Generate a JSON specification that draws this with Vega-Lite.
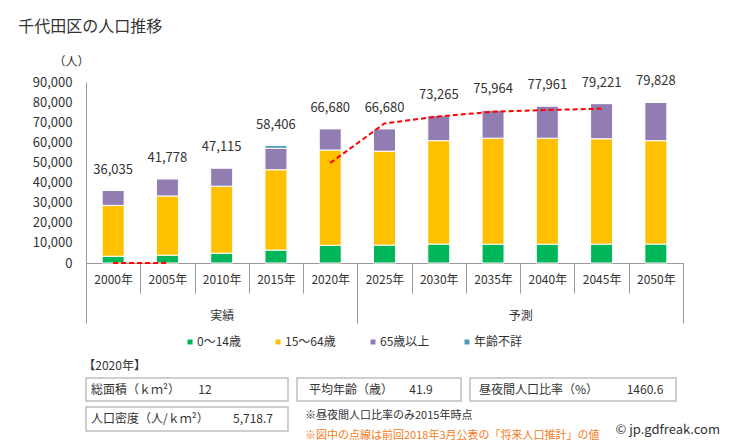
{
  "$schema": "https://vega.github.io/schema/vega-lite/v6.json",
  "padding": {"left": 18, "top": 19, "right": 0, "bottom": 0},
  "title": {
    "text": "千代田区の人口推移",
    "anchor": "start",
    "fontSize": 16,
    "fontWeight": "normal",
    "color": "#333333",
    "dx": -14,
    "offset": 20
  },
  "datasets": {
    "pop": [
      {"year": 2000, "age": "0～14歳", "value": 3370},
      {"year": 2000, "age": "15～64歳", "value": 25265},
      {"year": 2000, "age": "65歳以上", "value": 7400},
      {"year": 2005, "age": "0～14歳", "value": 3890},
      {"year": 2005, "age": "15～64歳", "value": 29437},
      {"year": 2005, "age": "65歳以上", "value": 8451},
      {"year": 2010, "age": "0～14歳", "value": 4878},
      {"year": 2010, "age": "15～64歳", "value": 33314},
      {"year": 2010, "age": "65歳以上", "value": 8923},
      {"year": 2015, "age": "0～14歳", "value": 6432},
      {"year": 2015, "age": "15～64歳", "value": 39949},
      {"year": 2015, "age": "65歳以上", "value": 10665},
      {"year": 2015, "age": "年齢不詳", "value": 1360},
      {"year": 2020, "age": "0～14歳", "value": 8790},
      {"year": 2020, "age": "15～64歳", "value": 47390},
      {"year": 2020, "age": "65歳以上", "value": 10500},
      {"year": 2025, "age": "0～14歳", "value": 8900},
      {"year": 2025, "age": "15～64歳", "value": 46700},
      {"year": 2025, "age": "65歳以上", "value": 11080},
      {"year": 2030, "age": "0～14歳", "value": 9410},
      {"year": 2030, "age": "15～64歳", "value": 51420},
      {"year": 2030, "age": "65歳以上", "value": 12435},
      {"year": 2035, "age": "0～14歳", "value": 9370},
      {"year": 2035, "age": "15～64歳", "value": 52710},
      {"year": 2035, "age": "65歳以上", "value": 13884},
      {"year": 2040, "age": "0～14歳", "value": 9365},
      {"year": 2040, "age": "15～64歳", "value": 52700},
      {"year": 2040, "age": "65歳以上", "value": 15896},
      {"year": 2045, "age": "0～14歳", "value": 9395},
      {"year": 2045, "age": "15～64歳", "value": 52375},
      {"year": 2045, "age": "65歳以上", "value": 17451},
      {"year": 2050, "age": "0～14歳", "value": 9410},
      {"year": 2050, "age": "15～64歳", "value": 51420},
      {"year": 2050, "age": "65歳以上", "value": 18998}
    ],
    "prev": [
      {"year": 2000, "value": 0, "seg": "a"},
      {"year": 2005, "value": 0, "seg": "a"},
      {"year": 2020, "value": 49700, "seg": "b"},
      {"year": 2025, "value": 69400, "seg": "b"},
      {"year": 2030, "value": 72900, "seg": "b"},
      {"year": 2035, "value": 75200, "seg": "b"},
      {"year": 2040, "value": 76100, "seg": "b"},
      {"year": 2045, "value": 76700, "seg": "b"}
    ],
    "info": [
      {"key": "area", "label": "総面積（ｋｍ²）", "value": 12},
      {"key": "age", "label": "平均年齢（歳）", "value": 41.9},
      {"key": "ratio", "label": "昼夜間人口比率（%）", "value": 1460.6},
      {"key": "density", "label": "人口密度（人/ｋｍ²）", "value": 5718.7}
    ],
    "notes": [
      {"key": "n1", "text": "※昼夜間人口比率のみ2015年時点"},
      {"key": "n2", "text": "※図中の点線は前回2018年3月公表の「将来人口推計」の値"},
      {"key": "n3", "text": "© jp.gdfreak.com"}
    ]
  },
  "spacing": 36,
  "vconcat": [
    {
      "width": 597,
      "height": 181,
      "resolve": {"scale": {"x": "independent"}},
      "layer": [
        {
          "data": {"name": "pop"},
          "encoding": {
            "x": {
              "field": "year",
              "type": "ordinal",
              "scale": {"paddingInner": 0, "paddingOuter": 0},
              "axis": {
                "orient": "bottom",
                "title": null,
                "labelExpr": "datum.label ? datum.label + '年' : ''",
                "labelAngle": 0,
                "tickBand": "extent",
                "tickSize": 30,
                "labelPadding": -19,
                "labelBaseline": "top",
                "labelFontSize": 12,
                "labelColor": "#333333"
              }
            }
          },
          "layer": [
            {
              "mark": {"type": "bar", "width": {"band": 0.405}, "stroke": "white", "strokeWidth": 1},
              "encoding": {
                "y": {
                  "field": "value",
                  "type": "quantitative",
                  "stack": "zero",
                  "scale": {"domain": [0, 90000], "nice": false},
                  "axis": {
                    "title": "（人）",
                    "titleAngle": 0,
                    "titleAlign": "left",
                    "titleBaseline": "middle",
                    "titleX": -33,
                    "titleY": -21,
                    "titleFontSize": 12,
                    "titleFontWeight": "normal",
                    "titleColor": "#333333",
                    "format": ",d",
                    "tickCount": 10,
                    "ticks": false,
                    "tickSize": 0,
                    "labelPadding": 14,
                    "labelFontSize": 13,
                    "labelColor": "#333333"
                  }
                },
                "color": {
                  "field": "age",
                  "type": "nominal",
                  "scale": {
                    "domain": ["0～14歳", "15～64歳", "65歳以上", "年齢不詳"],
                    "range": ["#00b65a", "#ffc000", "#927db2", "#4a9bb4"]
                  },
                  "legend": {
                    "orient": "none",
                    "legendX": 98,
                    "legendY": 254,
                    "direction": "horizontal",
                    "title": null,
                    "symbolType": "square",
                    "symbolSize": 25,
                    "symbolStrokeWidth": 0,
                    "labelFontSize": 12,
                    "labelColor": "#333333",
                    "labelOffset": 1,
                    "columnPadding": 31
                  }
                },
                "order": {"field": "age", "type": "ordinal", "sort": "ascending"}
              }
            },
            {
              "transform": [
                {"aggregate": [{"op": "sum", "field": "value", "as": "total"}], "groupby": ["year"]}
              ],
              "mark": {"type": "text", "baseline": "middle", "dy": -21, "fontSize": 13, "color": "#333333"},
              "encoding": {
                "y": {"field": "total", "type": "quantitative"},
                "text": {"field": "total", "type": "quantitative", "format": ","}
              }
            }
          ]
        },
        {
          "data": {"name": "prev"},
          "mark": {"type": "line", "color": "#ff0000", "strokeWidth": 2, "strokeDash": [5, 3]},
          "encoding": {
            "x": {
              "field": "year",
              "type": "quantitative",
              "scale": {"domain": [1997.5, 2052.5], "nice": false, "zero": false},
              "axis": {
                "orient": "bottom",
                "title": null,
                "domain": false,
                "values": [1997.5, 2010, 2022.5, 2037.5, 2052.5],
                "labelExpr": "datum.value == 2010 ? '実績' : datum.value == 2037.5 ? '予測' : ''",
                "tickSize": 60,
                "tickColor": {"condition": {"test": "datum.value == 2010 || datum.value == 2037.5", "value": "transparent"}, "value": "#999999"},
                "labelPadding": -13,
                "labelBaseline": "top",
                "labelFontSize": 12,
                "labelColor": "#333333",
                "labelFlush": false,
                "labelOverlap": false
              }
            },
            "y": {"field": "value", "type": "quantitative", "scale": {"domain": [0, 90000], "nice": false}},
            "detail": {"field": "seg", "type": "nominal"}
          }
        }
      ]
    },
    {
      "title": {"text": "【2020年】", "anchor": "start", "fontSize": 12, "fontWeight": "normal", "color": "#333333", "offset": 4, "dx": -2},
      "spacing": 4,
      "vconcat": [
        {
          "spacing": 7,
          "hconcat": [
            {
              "width": 202, "height": 23,
              "view": {"stroke": "#bfbfbf", "strokeWidth": 1.5},
              "data": {"name": "info"},
              "transform": [{"filter": "datum.key == 'area'"}],
              "layer": [
                {"mark": {"type": "text", "align": "left", "dx": -96, "fontSize": 12, "color": "#333333"},
                 "encoding": {"text": {"field": "label", "type": "nominal"}}},
                {"mark": {"type": "text", "align": "center", "dx": 18, "fontSize": 12, "color": "#333333"},
                 "encoding": {"text": {"field": "value", "type": "quantitative", "format": "d"}}}
              ]
            },
            {
              "width": 164, "height": 23,
              "view": {"stroke": "#bfbfbf", "strokeWidth": 1.5},
              "data": {"name": "info"},
              "transform": [{"filter": "datum.key == 'age'"}],
              "layer": [
                {"mark": {"type": "text", "align": "left", "dx": -70, "fontSize": 12, "color": "#333333"},
                 "encoding": {"text": {"field": "label", "type": "nominal"}}},
                {"mark": {"type": "text", "align": "center", "dx": 42, "fontSize": 12, "color": "#333333"},
                 "encoding": {"text": {"field": "value", "type": "quantitative", "format": ".1f"}}}
              ]
            },
            {
              "width": 206, "height": 23,
              "view": {"stroke": "#bfbfbf", "strokeWidth": 1.5},
              "data": {"name": "info"},
              "transform": [{"filter": "datum.key == 'ratio'"}],
              "layer": [
                {"mark": {"type": "text", "align": "left", "dx": -94, "fontSize": 12, "color": "#333333"},
                 "encoding": {"text": {"field": "label", "type": "nominal"}}},
                {"mark": {"type": "text", "align": "center", "dx": 72, "fontSize": 12, "color": "#333333"},
                 "encoding": {"text": {"field": "value", "type": "quantitative", "format": ".1f"}}}
              ]
            }
          ]
        },
        {
          "spacing": 7,
          "hconcat": [
            {
              "width": 202, "height": 24,
              "view": {"stroke": "#bfbfbf", "strokeWidth": 1.5},
              "data": {"name": "info"},
              "transform": [{"filter": "datum.key == 'density'"}],
              "layer": [
                {"mark": {"type": "text", "align": "left", "dx": -96, "fontSize": 12, "color": "#333333"},
                 "encoding": {"text": {"field": "label", "type": "nominal"}}},
                {"mark": {"type": "text", "align": "center", "dx": 66, "fontSize": 12, "color": "#333333"},
                 "encoding": {"text": {"field": "value", "type": "quantitative", "format": ",.1f"}}}
              ]
            },
            {
              "width": 424, "height": 24,
              "data": {"name": "notes"},
              "layer": [
                {"transform": [{"filter": "datum.key == 'n1'"}],
                 "mark": {"type": "text", "align": "left", "dx": -203, "dy": -3, "fontSize": 11, "color": "#333333"},
                 "encoding": {"text": {"field": "text", "type": "nominal"}}},
                {"transform": [{"filter": "datum.key == 'n2'"}],
                 "mark": {"type": "text", "align": "left", "dx": -203, "dy": 17, "fontSize": 11, "color": "#f47b20"},
                 "encoding": {"text": {"field": "text", "type": "nominal"}}},
                {"transform": [{"filter": "datum.key == 'n3'"}],
                 "mark": {"type": "text", "align": "right", "dx": 212, "dy": 11, "fontSize": 13, "color": "#333333"},
                 "encoding": {"text": {"field": "text", "type": "nominal"}}}
              ]
            }
          ]
        }
      ]
    }
  ],
  "config": {
    "font": "Noto Sans CJK JP",
    "view": {"stroke": null},
    "axis": {"grid": false, "domainColor": "#999999", "tickColor": "#999999"}
  }
}
